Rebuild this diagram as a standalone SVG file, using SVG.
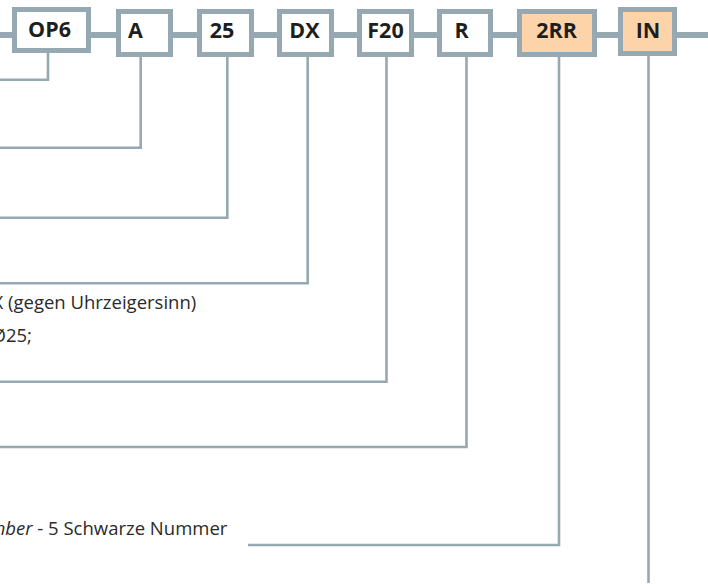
<svg xmlns="http://www.w3.org/2000/svg" width="708" height="584" viewBox="0 0 708 584">
<style>
.bar{stroke:#96a8b2;stroke-width:6;fill:none}
.lead{stroke:#96a8b2;stroke-width:2.6;fill:none}
.box{stroke:#96a8b2;stroke-width:5;fill:#ffffff}
.box.opt{fill:#fdd4a9}
.lbl{font-family:"Open Sans","Noto Sans","Liberation Sans",sans-serif;font-weight:700;font-size:21.5px;fill:#1e1e1e;text-anchor:middle}
.desc{font-family:"Open Sans","Noto Sans","Liberation Sans",sans-serif;font-size:18.5px;fill:#2a2a2a}
</style>
<rect x="0" y="0" width="708" height="584" fill="#ffffff"/>
<g id="connectors">
<line class="bar" x1="0" y1="35" x2="708" y2="35"/>
<path class="lead" d="M48,52 V79.7 H0"/>
<path class="lead" d="M140.7,56 V147.7 H0"/>
<path class="lead" d="M227.3,56 V217.7 H0"/>
<path class="lead" d="M307.7,56 V283.3 H0"/>
<path class="lead" d="M386.5,56 V381.7 H0"/>
<path class="lead" d="M466.5,56 V447 H0"/>
<path class="lead" d="M559,56 V545 H248"/>
<path class="lead" d="M648.5,55 V583"/>
</g>
<g id="n-op6"><rect class="box" x="14.5" y="9.5" width="74" height="41"/><text class="lbl" x="49.5" y="36.5">OP6</text></g>
<g id="n-a"><rect class="box" x="118.5" y="11.5" width="52" height="43"/><text class="lbl" x="128" y="37.5" style="text-anchor:start">A</text></g>
<g id="n-25"><rect class="box" x="199.5" y="11.5" width="52" height="43"/><text class="lbl" x="222" y="37.5">25</text></g>
<g id="n-dx"><rect class="box" x="279.5" y="11.5" width="52" height="43"/><text class="lbl" x="304.5" y="37.5">DX</text></g>
<g id="n-f20"><rect class="box" x="359.5" y="11.5" width="52" height="43"/><text class="lbl" x="385.5" y="37.5">F20</text></g>
<g id="n-r"><rect class="box" x="439.5" y="11.5" width="51" height="43"/><text class="lbl" x="461.5" y="37.5">R</text></g>
<g id="n-2rr"><rect class="box opt" x="519.5" y="11.5" width="75" height="43"/><text class="lbl" x="556.5" y="37.5">2RR</text></g>
<g id="n-in"><rect class="box opt" x="620.5" y="9.5" width="54" height="44"/><text class="lbl" x="648" y="37.5">IN</text></g>
<g id="texts">
<text class="desc" x="-7.5" y="309">X (gegen Uhrzeigersinn)</text>
<text class="desc" x="-8.5" y="342">Ø25;</text>
<text class="desc" x="-34.5" y="535"><tspan font-style="italic">Number</tspan> - 5 Schwarze Nummer</text>
</g>
</svg>
